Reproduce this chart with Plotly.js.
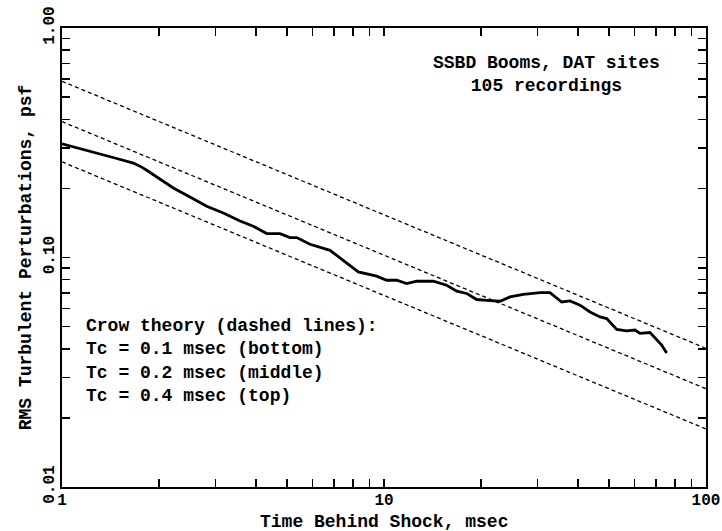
<!DOCTYPE html>
<html>
<head>
<meta charset="utf-8">
<script src="https://cdn.plot.ly/plotly-3.0.1.min.js"></script>
<style>html,body{margin:0;padding:0;background:#fff}#chart{width:722px;height:531px}</style>
</head>
<body>
<div id="chart"></div>
<script>
const timeMs = [1.00, 1.146, 1.312, 1.479, 1.665, 1.747, 1.833, 1.968, 2.217, 2.497, 2.814, 3.170, 3.571, 3.928, 4.322, 4.754, 5.106, 5.357, 5.891, 6.798, 7.475, 8.320, 9.491, 10.19, 10.95, 11.76, 12.64, 14.23, 15.66, 16.82, 18.07, 19.41, 20.84, 22.93, 24.62, 27.08, 30.51, 32.77, 35.64, 37.82, 40.62, 43.63, 46.87, 49.16, 52.81, 56.71, 60.19, 62.37, 66.99, 70.29, 72.85, 75.50];
const rmsPsf = [0.313, 0.298, 0.282, 0.270, 0.258, 0.250, 0.240, 0.2242, 0.2008, 0.1835, 0.1671, 0.1563, 0.1442, 0.1368, 0.1271, 0.1271, 0.1221, 0.1221, 0.1142, 0.1075, 0.0973, 0.0865, 0.0829, 0.0796, 0.0796, 0.0770, 0.0788, 0.0788, 0.0757, 0.0713, 0.0697, 0.0656, 0.0651, 0.0645, 0.0673, 0.0690, 0.0703, 0.0703, 0.0640, 0.0647, 0.0620, 0.0579, 0.0551, 0.0542, 0.0486, 0.0479, 0.0483, 0.0467, 0.0471, 0.0436, 0.0415, 0.0384];

// Crow theory lines (end points at 1 and 100 msec)
const crowTime = [1, 100];
const crowTc01 = [0.261, 0.0179];
const crowTc02 = [0.391, 0.0268];
const crowTc04 = [0.586, 0.0402];

// Tick values and labels
const xTickVals = [1,2,3,4,5,6,7,8,9,10,20,30,40,50,60,70,80,90,100];
const xTickText = ['1','','','','','','','','','10','','','','','','','','','100'];
const yTickVals = [0.01,0.02,0.03,0.04,0.05,0.06,0.07,0.08,0.09,0.1,0.2,0.3,0.4,0.5,0.6,0.7,0.8,0.9,1];
const yTickText = ['0.01','','','','','','','','','0.10','','','','','','','','','1.00'];

const FONT = '"Liberation Mono", "Courier New", monospace';
const dashStyle = {color: '#000', width: 1.3, dash: '4px,3px'};
const textFont = {family: FONT, size: 18, color: '#000', weight: 'bold'};

const traces = [
  {x: crowTime, y: crowTc04, mode: 'lines', line: dashStyle, hoverinfo: 'skip', showlegend: false},
  {x: crowTime, y: crowTc02, mode: 'lines', line: dashStyle, hoverinfo: 'skip', showlegend: false},
  {x: crowTime, y: crowTc01, mode: 'lines', line: dashStyle, hoverinfo: 'skip', showlegend: false},
  {x: timeMs, y: rmsPsf, mode: 'lines', line: {color: '#000', width: 2.8}, showlegend: false}
];

const axisCommon = {
  type: 'log', showgrid: false, zeroline: false,
  showline: true, linecolor: '#000', linewidth: 2, mirror: 'ticks',
  ticks: 'inside', ticklen: 8, tickwidth: 1.5, tickcolor: '#000',
  tickfont: {family: FONT, size: 16, color: '#000', weight: 'bold'},
  tickmode: 'array', automargin: false
};

const layout = {
  width: 722, height: 531,
  margin: {l: 62, r: 16, t: 28, b: 44},
  paper_bgcolor: '#fff', plot_bgcolor: '#fff',
  font: {family: FONT, color: '#000'},
  xaxis: Object.assign({}, axisCommon, {
    range: [0, 2], tickvals: xTickVals, ticktext: xTickText, ticklabelstandoff: -3
  }),
  yaxis: Object.assign({}, axisCommon, {
    range: [-2, 0], tickvals: yTickVals, ticktext: yTickText, tickangle: -90,
    title: {text: 'RMS Turbulent Perturbations, psf', font: textFont, standoff: 4}
  }),
  annotations: [
    {xref: 'paper', yref: 'paper', x: 0.5, y: 0, xanchor: 'center', yanchor: 'middle', yshift: -35,
     text: 'Time Behind Shock, msec', showarrow: false, font: textFont},
    {xref: 'paper', yref: 'paper', x: 0.753, y: 0.899, xanchor: 'center', yanchor: 'middle',
     text: 'SSBD Booms, DAT sites<br>105 recordings', align: 'center', showarrow: false, font: textFont},
    {xref: 'paper', yref: 'paper', x: 0.034, y: 0.2753, xanchor: 'left', yanchor: 'middle',
     text: 'Crow theory (dashed lines):<br>Tc = 0.1 msec (bottom)<br>Tc = 0.2 msec (middle)<br>Tc = 0.4 msec (top)', align: 'left', showarrow: false, font: textFont}
  ]
};

Plotly.newPlot('chart', traces, layout, {displayModeBar: false, staticPlot: true});
</script>
</body>
</html>
